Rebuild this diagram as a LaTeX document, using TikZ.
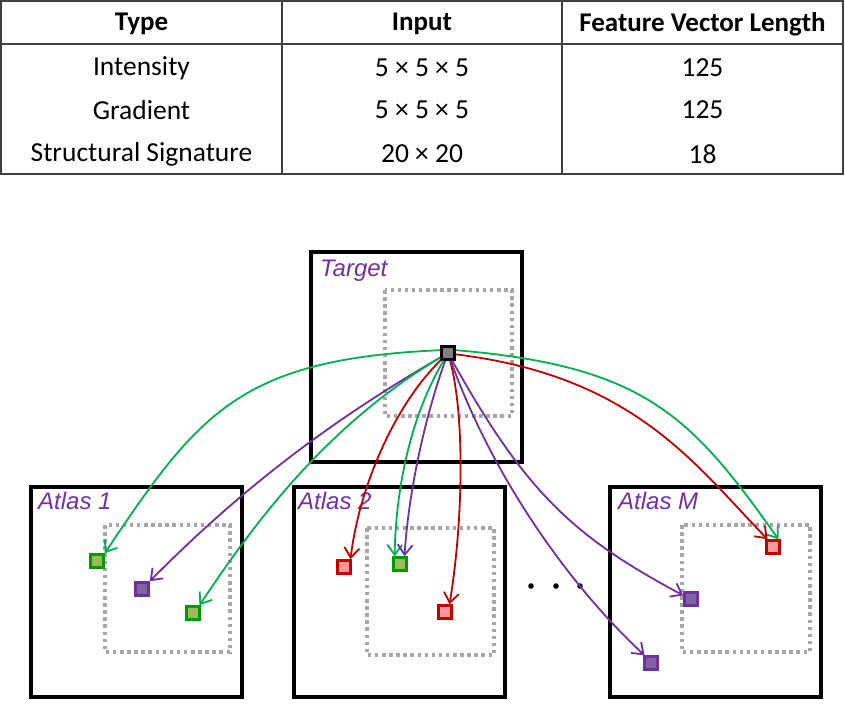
\documentclass[tikz,border=0pt]{standalone}
\usepackage{fontspec}
\setmainfont{Carlito}
\newfontfamily\labfont{Liberation Sans}
\usetikzlibrary{arrows.meta}
\definecolor{lgreen}{HTML}{00B050}
\definecolor{sqgreen}{HTML}{009A00}
\definecolor{fgreen}{HTML}{9BBB59}
\definecolor{lpurple}{HTML}{7030A0}
\definecolor{fpurple}{HTML}{8064A2}
\definecolor{lred}{HTML}{C00000}
\definecolor{fred}{HTML}{FF9999}
\definecolor{dotgray}{HTML}{A6A6A6}
\definecolor{tblline}{HTML}{404040}
\begin{document}
\begin{tikzpicture}[x=1pt,y=-1pt,
  tbl/.style={draw=tblline,line width=2pt},
  tt/.style={inner sep=0pt,font=\fontsize{27.5}{31}\selectfont},
  th/.style={inner sep=0pt,font=\fontsize{27}{31}\selectfont\bfseries},
  boxline/.style={draw=black,line width=3.8pt},
  dotbox/.style={draw=dotgray,line width=3.5pt,dash pattern=on 3.5pt off 3.6pt},
  lab/.style={inner sep=0pt,anchor=base west,text=lpurple,font=\labfont\itshape\fontsize{24}{28}\selectfont},
  sq/.style={rectangle,line width=3pt,minimum size=12.5pt,inner sep=0pt},
  gsq/.style={sq,draw=sqgreen,fill=fgreen},
  psq/.style={sq,draw=lpurple,fill=fpurple},
  rsq/.style={sq,draw=lred,fill=fred},
  tsq/.style={sq,draw=black,fill=black!50},
  conn/.style={line width=1.8pt,-{Straight Barb[length=10pt,width=15pt]}},
  gc/.style={conn,draw=lgreen},
  pc/.style={conn,draw=lpurple},
  rc/.style={conn,draw=lred}]
\useasboundingbox (0,0) rectangle (845,704);

% ---- table ----
\draw[tbl] (1,1) rectangle (843,174);
\draw[tbl] (1,44) -- (843,44);
\draw[tbl] (282,1) -- (282,174);
\draw[tbl] (562,1) -- (562,174);
\node[th] (h1) at (141.5,24) {Type};
\node[th] (h2) at (422,24) {Input};
\node[th] (h3) at (702.5,24) {Feature Vector Length};
\node[tt] (a1) at (141.5,68) {Intensity};
\node[tt] (a2) at (422,68) {5 × 5 × 5};
\node[tt] (a3) at (702.5,68) {125};
\node[tt] (b1) at (141.5,110) {Gradient};
\node[tt] (b2) at (422,110) {5 × 5 × 5};
\node[tt] (b3) at (702.5,110) {125};
\node[tt] (c1) at (141.5,154) {Structural Signature};
\node[tt] (c2) at (422,154) {20 × 20};
\node[tt] (c3) at (702.5,154) {18};

% ---- boxes ----
\draw[boxline] (311,252) rectangle (522,462);
\draw[dotbox] (385,290) rectangle (512,416);
\draw[boxline] (31,487) rectangle (242,697);
\draw[dotbox] (105,525) rectangle (230,652);
\draw[boxline] (294,487) rectangle (505,697);
\draw[dotbox] (367,528) rectangle (494,655);
\draw[boxline] (610,487) rectangle (821,697);
\draw[dotbox] (682,525) rectangle (810,652);

\node[lab] (lt) at (320,276) {Target};
\node[lab] (l1) at (38,509) {Atlas 1};
\node[lab] (l2) at (298,509) {Atlas 2};
\node[lab] (lm) at (618,509) {Atlas M};

% ---- dots ----
\fill (531,586) circle (2.8);
\fill (556,586) circle (2.8);
\fill (580,586) circle (2.8);

% ---- squares ----
\node[tsq] (S) at (448,353) {};
\node[gsq] (g1) at (97,561) {};
\node[psq] (p1) at (142,589) {};
\node[gsq] (g2) at (193,613) {};
\node[rsq] (r1) at (344,567) {};
\node[gsq] (g3) at (400,564) {};
\node[rsq] (r2) at (445,612) {};
\node[rsq] (rM) at (773,547) {};
\node[psq] (pM1) at (691,599) {};
\node[psq] (pM2) at (651,663) {};

% ---- connectors ----
\draw[gc] (S.160) .. controls (241,359) and (199,412) .. (g1.45);
\draw[pc] (S) .. controls (341,415) and (250,480) .. (p1.45);
\draw[gc] (S) .. controls (332,422) and (260,514) .. (g2.50);
\draw[rc] (S) .. controls (394,406) and (359,488) .. (r1.50);
\draw[gc] (S) .. controls (411,416) and (396,486) .. (g3.125);
\draw[pc] (S) .. controls (427,411) and (409,486) .. (g3.60);
\draw[rc] (S) .. controls (466,420) and (462,530) .. (r2.60);
\draw[pc] (S) .. controls (494,481) and (573,589) .. (pM2.130);
\draw[pc] (S) .. controls (525,491) and (572,536) .. (pM1.155);
\draw[gc] (S.20) .. controls (645,366) and (691,416) .. (rM.55);
\draw[rc] (S.-10) .. controls (635,376) and (696,466) .. (rM.125);
\end{tikzpicture}
\end{document}
